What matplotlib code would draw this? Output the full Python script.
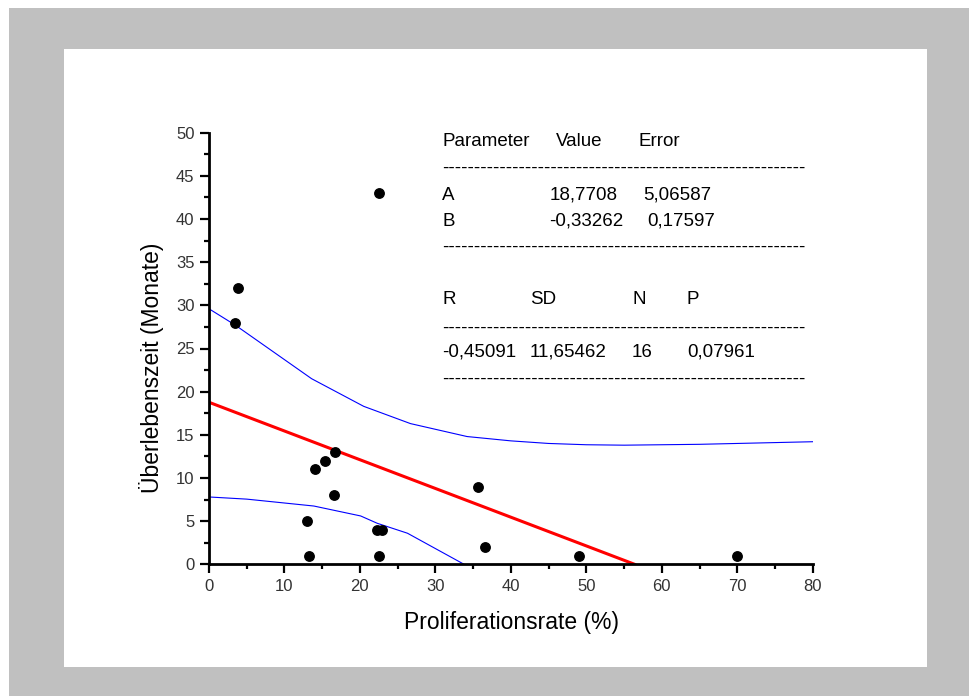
import matplotlib
matplotlib.use("Agg")
import matplotlib.pyplot as plt
from matplotlib.patches import Rectangle
from matplotlib.ticker import MultipleLocator

plt.rcParams['font.family'] = ['Liberation Sans', 'DejaVu Sans']

# Messwerte (Proliferationsrate in %, Ueberlebenszeit in Monaten)
prolif = [3.5, 3.8, 22.5, 13.0, 13.3, 14.0, 15.4, 16.7, 16.5, 22.2, 22.9, 22.5, 35.6, 36.6, 49.0, 70.0]
survival = [28, 32, 43, 5, 1, 11, 12, 13, 8, 4, 4, 1, 9, 2, 1, 1]

# lineare Regression (Endpunkte aus dem Bild)
fit_x = [0, 56.4]
fit_y = [18.77, 0]

# Konfidenzband oben / unten
upper_x = [0, 3.5, 13.6, 20.5, 26.7, 34.2, 40, 45, 50, 55, 60, 65, 70, 75, 80]
upper_y = [29.6, 27.7, 21.5, 18.3, 16.3, 14.8, 14.3, 14.0, 13.85, 13.8, 13.85, 13.9, 14.0, 14.1, 14.2]
lower_x = [0, 5, 13.9, 20.1, 22.3, 26.3, 33.8]
lower_y = [7.8, 7.55, 6.75, 5.6, 4.75, 3.6, 0.0]

# Tabelle mit Fit-Ergebnissen
tab_header = ["Parameter", "Value", "Error"]
tab_A = ["A", "18,7708", "5,06587"]
tab_B = ["B", "-0,33262", "0,17597"]
tab_stat_head = ["R", "SD", "N", "P"]
tab_stat_val = ["-0,45091", "11,65462", "16", "0,07961"]

W, H = 969, 696
fig = plt.figure(figsize=(W / 100, H / 100), dpi=100)
fig.patch.set_facecolor('white')

# grauer Rahmen + weisse Flaeche
fig.patches.append(Rectangle((9 / W, 0), (W - 9) / W, (H - 8) / H,
                             transform=fig.transFigure, facecolor='#c0c0c0', edgecolor='none', zorder=-2))
fig.patches.append(Rectangle((64 / W, (H - 667) / H), (927 - 64) / W, (667 - 49) / H,
                             transform=fig.transFigure, facecolor='white', edgecolor='none', zorder=-1))

ax = fig.add_axes([209 / W, (H - 564.3) / H, (812.7 - 209) / W, (564.3 - 132.7) / H])
ax.patch.set_alpha(0)

ax.plot(upper_x, upper_y, color='#0000ff', lw=0.8, clip_on=True)
ax.plot(lower_x, lower_y, color='#0000ff', lw=0.8, clip_on=True)
ax.plot(fit_x, fit_y, color='#ff0000', lw=2.2, clip_on=True)
ax.plot(prolif, survival, 'o', color='black', markersize=6.8, clip_on=False)

ax.set_xlim(0, 80)
ax.set_ylim(0, 50)
ax.xaxis.set_major_locator(MultipleLocator(10))
ax.xaxis.set_minor_locator(MultipleLocator(5))
ax.yaxis.set_major_locator(MultipleLocator(5))
ax.yaxis.set_minor_locator(MultipleLocator(2.5))

for s in ['top', 'right']:
    ax.spines[s].set_visible(False)
for s in ['left', 'bottom']:
    ax.spines[s].set_linewidth(2)
ax.tick_params(which='major', length=6.5, width=1.6, direction='out', labelsize=12,
               labelcolor='#333333', pad=4)
ax.tick_params(which='minor', length=3.5, width=1.6, direction='out')

fig.text(511 / W, 1 - 622 / H, "Proliferationsrate (%)", ha='center', va='center', fontsize=16.5)
fig.text(151 / W, 1 - 368 / H, "Überlebenszeit (Monate)", ha='center', va='center',
         rotation=90, fontsize=16.5)

# Tabelle zeichnen (Pixelpositionen)
def put(px, py, s):
    fig.text(px / W, 1 - py / H, s, ha='left', va='center', fontsize=13.5)

dashes = "-" * 57
for px, s in zip([442, 556, 638], tab_header):
    put(px, 141, s)
put(442, 168, dashes)
for px, s in zip([442, 550, 643], tab_A):
    put(px, 195, s)
for px, s in zip([442, 549, 647], tab_B):
    put(px, 221, s)
put(442, 247, dashes)
for px, s in zip([442, 530, 632, 687], tab_stat_head):
    put(px, 300, s)
put(442, 328, dashes)
for px, s in zip([442, 530, 632, 687], tab_stat_val):
    put(px, 352, s)
put(442, 379, dashes)

fig.savefig("out.png", dpi=100)
